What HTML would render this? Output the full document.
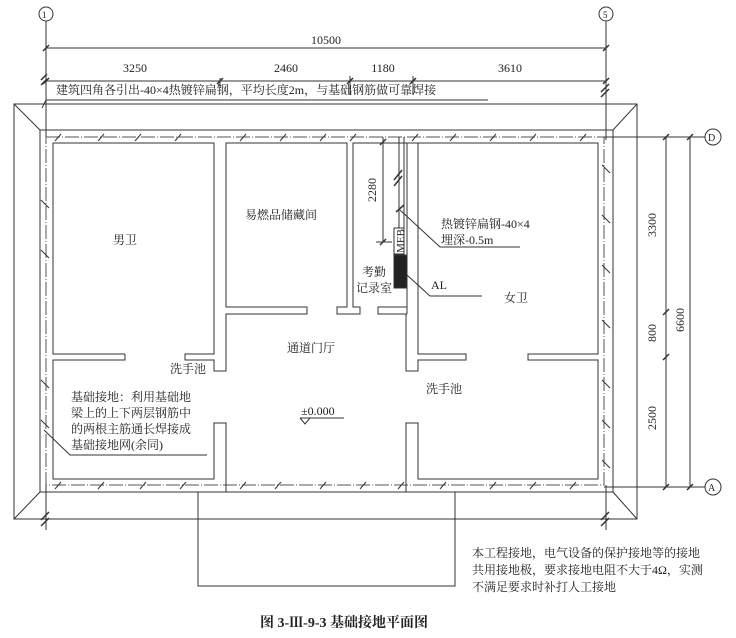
<!DOCTYPE html>
<html><head><meta charset="utf-8"><style>
body{margin:0;background:#fff}
svg{display:block}
text{font-family:"Liberation Serif","Noto Serif CJK SC","Noto Sans CJK SC",serif;fill:#222}
</style></head><body>
<svg width="736" height="638" viewBox="0 0 736 638" xmlns="http://www.w3.org/2000/svg">
<g stroke="#333" stroke-width="1" fill="none">
<circle cx="46" cy="14" r="7"/><circle cx="606" cy="14" r="7"/>
<line x1="46" y1="21" x2="46" y2="140"/><line x1="606" y1="21" x2="606" y2="140"/>
<line x1="46" y1="485" x2="46" y2="530"/><line x1="606" y1="485" x2="606" y2="530"/>
<line x1="46" y1="48" x2="606" y2="48"/>
<line x1="46" y1="81" x2="606" y2="81"/>
<line x1="220" y1="78" x2="220" y2="88"/><line x1="350" y1="76" x2="350" y2="95"/><line x1="413" y1="76" x2="413" y2="95"/>
<g stroke-width="1.5">
<line x1="43" y1="51" x2="49" y2="45"/><line x1="603" y1="51" x2="609" y2="45"/>
<line x1="43" y1="84" x2="49" y2="78"/><line x1="217" y1="84" x2="223" y2="78"/><line x1="347" y1="84" x2="353" y2="78"/><line x1="410" y1="84" x2="416" y2="78"/><line x1="603" y1="84" x2="609" y2="78"/>
<line x1="41" y1="80" x2="47" y2="74"/><line x1="41" y1="85" x2="47" y2="79"/>
<line x1="601" y1="92" x2="609" y2="84"/><line x1="601" y1="97" x2="609" y2="89"/>
<line x1="41" y1="520" x2="49" y2="512"/><line x1="41" y1="526" x2="49" y2="518"/>
<line x1="601" y1="520" x2="609" y2="512"/><line x1="601" y1="526" x2="609" y2="518"/>
</g>
<line x1="46" y1="100" x2="488" y2="100"/>
<line x1="46" y1="100" x2="42" y2="108"/>
<rect x="14" y="104" width="623" height="415"/>
<rect x="40" y="130" width="573" height="362"/>
<line x1="14" y1="104" x2="40" y2="130"/><line x1="637" y1="104" x2="613" y2="130"/>
<line x1="14" y1="519" x2="40" y2="492"/><line x1="637" y1="519" x2="613" y2="492"/>
<rect x="46" y="137" width="558" height="348" stroke="#555" stroke-dasharray="14 2 1 2"/>
<polyline points="125,354 53,354 53,143 214,143 214,354 185,354 185,360 214,360 214,371 226,371 226,314 307,314 307,307 226,307 226,143 347,143 347,307 337,307 337,314 360,314 360,307 353,307 353,143 407,143 407,307 378,307 378,314 407,314"/>
<polyline points="125,354 125,360 53,360 53,479 214,479 214,423 226,423 226,492"/>
<polyline points="407,314 407,143 418,143"/>
<polyline points="418,143 598,143 598,354 528,354 528,360 598,360 598,479 418,479 418,423 406,423 406,492"/>
<polyline points="418,143 418,354 466,354 466,360 418,360 418,371 406,371 406,314"/>
<polyline points="198,492 198,586 455,586 455,492"/>
<line x1="604" y1="137" x2="705" y2="137"/><line x1="604" y1="487" x2="705" y2="487"/>
<circle cx="713" cy="137" r="8"/><circle cx="713" cy="487" r="8"/>
<line x1="666" y1="137" x2="666" y2="487"/><line x1="690" y1="137" x2="690" y2="487"/>
<g stroke-width="1.5">
<line x1="663" y1="140" x2="669" y2="134"/><line x1="687" y1="140" x2="693" y2="134"/>
<line x1="663" y1="315" x2="669" y2="309"/><line x1="663" y1="360" x2="669" y2="354"/>
<line x1="663" y1="490" x2="669" y2="484"/><line x1="687" y1="490" x2="693" y2="484"/>
<line x1="380" y1="145" x2="386" y2="139"/><line x1="380" y1="245" x2="386" y2="239"/>
<line x1="394" y1="180" x2="402" y2="170"/><line x1="394" y1="186" x2="402" y2="176"/>
<line x1="396" y1="212" x2="404" y2="205"/>
</g>
<line x1="383" y1="137" x2="383" y2="242"/><line x1="376" y1="242" x2="392" y2="242"/>
<line x1="399" y1="137" x2="399" y2="228"/><line x1="404" y1="137" x2="404" y2="228"/>
<rect x="394" y="228" width="10" height="26" fill="#fff"/>
<rect x="394" y="255" width="13" height="33" fill="#222"/>
<polyline points="400,210 440,247 520,247"/>
<polyline points="407,275 430,296 482,296"/>
<polyline points="207,455 70,455 44,430"/>
<line x1="300" y1="418" x2="344" y2="418"/>
<polyline points="300,418 305,424 310,418"/>
</g>
<g stroke="#333" stroke-width="1">
<path d="M55,141l6,-7M98,141l6,-7M135,141l6,-7M175,141l6,-7M240,141l6,-7M280,141l6,-7M320,141l6,-7M350,141l6,-7M412,141l6,-7M450,141l6,-7M490,141l6,-7M530,141l6,-7M580,141l6,-7"/>
<path d="M55,489l6,-7M98,489l6,-7M140,489l6,-7M180,489l6,-7M240,489l6,-7M275,489l6,-7M320,489l6,-7M360,489l6,-7M398,489l6,-7M440,489l6,-7M490,489l6,-7M530,489l6,-7M570,489l6,-7"/>
<path d="M41,200l8,8M41,250l8,8M41,380l8,8M41,420l8,8M602,165l8,8M602,215l8,8M602,265l8,8M602,320l8,8M602,380l8,8M602,420l8,8M602,460l8,8"/>
</g>
<g font-size="12">
<text x="42" y="18" font-size="9">1</text><text x="603" y="18" font-size="9">5</text>
<text x="708" y="141" font-size="10">D</text><text x="708" y="491" font-size="10">A</text>
<text x="326" y="44" text-anchor="middle">10500</text>
<text x="135" y="72" text-anchor="middle">3250</text>
<text x="286" y="72" text-anchor="middle">2460</text>
<text x="383" y="72" text-anchor="middle">1180</text>
<text x="510" y="72" text-anchor="middle">3610</text>
<text x="56" y="94">建筑四角各引出-40×4热镀锌扁钢，平均长度2m，与基础钢筋做可靠焊接</text>
<text x="113" y="244">男卫</text>
<text x="245" y="219">易燃品储藏间</text>
<text x="441" y="228">热镀锌扁钢-40×4</text>
<text x="441" y="244">埋深-0.5m</text>
<text x="362" y="276">考勤</text>
<text x="356" y="292">记录室</text>
<text x="431" y="289">AL</text>
<text x="504" y="302">女卫</text>
<text x="287" y="352">通道门厅</text>
<text x="170" y="373">洗手池</text>
<text x="426" y="393">洗手池</text>
<text x="301" y="415">±0.000</text>
<text x="71" y="401">基础接地：利用基础地</text>
<text x="71" y="417">梁上的上下两层钢筋中</text>
<text x="71" y="433">的两根主筋通长焊接成</text>
<text x="71" y="449">基础接地网(余同)</text>
<text x="472" y="557">本工程接地，电气设备的保护接地等的接地</text>
<text x="472" y="574">共用接地极，要求接地电阻不大于4Ω，实测</text>
<text x="472" y="591">不满足要求时补打人工接地</text>
<text x="260" y="627" font-weight="bold" font-size="14" font-family="Liberation Sans,Noto Sans CJK SC,sans-serif">图 3-Ⅲ-9-3   基础接地平面图</text>
<text transform="translate(376,190) rotate(-90)" text-anchor="middle">2280</text>
<text transform="translate(404,241) rotate(-90)" text-anchor="middle" font-size="11">MEB</text>
<text transform="translate(656,225) rotate(-90)" text-anchor="middle">3300</text>
<text transform="translate(656,333) rotate(-90)" text-anchor="middle">800</text>
<text transform="translate(656,418) rotate(-90)" text-anchor="middle">2500</text>
<text transform="translate(684,320) rotate(-90)" text-anchor="middle">6600</text>
</g>
</svg>
</body></html>
